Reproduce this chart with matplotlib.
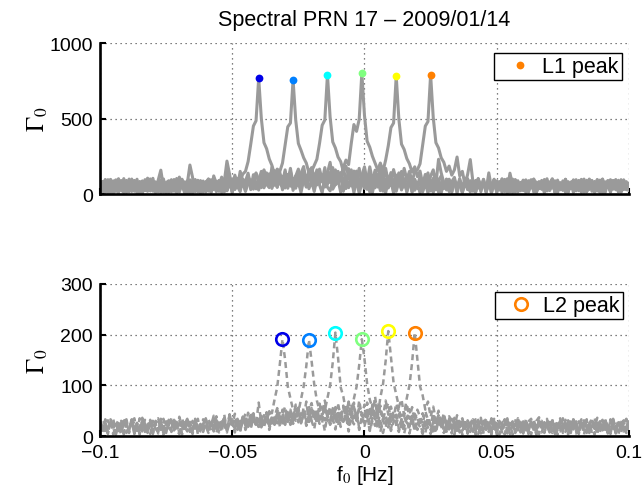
import numpy as np
import matplotlib
matplotlib.use("Agg")
import matplotlib.pyplot as plt
from matplotlib.ticker import FixedLocator, FixedFormatter

# Frequency axis shared by every spectrum [Hz]
freq = np.linspace(-0.1, 0.1, 201)

# L1 spectral amplitude Gamma_0, one spectrum per track
l1_a = [38, 82, 12, 95, 47, 8, 66, 101, 25, 59, 90, 15, 72, 44, 98, 6, 63, 85, 30, 52,
        104, 20, 70, 9, 88, 41, 77, 14, 96, 35, 112, 58, 18, 84, 49, 7, 91, 62, 26, 79,
        45, 99, 11, 120, 68, 33, 94, 22, 146, 82, 13, 114, 56, 92, 132, 150, 215, 330, 450, 485,
        768,
        500, 340, 300, 232, 190, 128, 150, 96, 118, 40, 88, 140, 24, 102, 79, 10, 93, 121, 35, 84,
        17, 99, 60, 8, 110, 45, 21, 87, 62, 95, 12, 78, 36, 70, 104, 28, 83, 5, 69, 92,
        31, 76, 9, 88, 54, 97, 19, 71, 40, 85, 7, 67, 91, 27, 74, 50, 102, 14, 81, 38,
        94, 22, 72, 6, 87, 43, 68, 99, 16, 77, 51, 84, 11, 96, 33, 73, 8, 90, 57, 24,
        80, 12, 103, 47, 75, 9, 86, 37, 98, 20, 71, 55, 89, 6, 77, 42, 95, 18, 68, 83,
        10, 74, 46, 92, 15, 81, 35, 69, 101, 23, 63, 88, 7, 76, 48, 93, 19, 70, 85, 29,
        66, 97, 13, 79, 44, 90, 21, 72, 58, 87, 9, 74, 95, 32, 67, 84, 16, 78, 50, 40]
l1_b = [62, 14, 81, 33, 93, 8, 70, 25, 86, 48, 11, 99, 30, 74, 58, 83, 6, 67, 105, 21,
        71, 17, 91, 158, 45, 9, 63, 95, 28, 72, 13, 88, 40, 69, 192, 110, 19, 84, 7, 78,
        36, 97, 15, 75, 52, 90, 10, 82, 218, 130, 26, 96, 44, 150, 88, 18, 124, 60, 102, 140,
        95, 118, 160, 108, 134, 86, 120, 165, 150, 205, 325, 445, 470,
        757,
        490, 335, 290, 240, 205, 140, 175, 112, 150, 90, 128, 46, 104, 143, 32, 66, 97, 120, 18, 85,
        42, 101, 9, 90, 24, 79, 36,
        88, 13, 75, 41, 96, 22, 70, 8, 84, 57, 93, 18, 77, 39, 102, 11, 73, 86, 25, 68,
        7, 82, 44, 95, 20, 71, 89, 12, 76, 38, 99, 16, 69, 84, 5, 78, 31, 92, 53, 14,
        66, 10, 87, 37, 97, 18, 73, 52, 91, 8, 80, 35, 69, 101, 14, 75, 43, 88, 21, 72,
        94, 17, 68, 83, 9, 77, 40, 96, 22, 71, 86, 13, 79, 47, 25, 98, 15, 74, 89, 34,
        70, 11, 85, 43, 99, 18, 76, 29, 92, 7, 81, 57, 22, 88, 63, 16, 95, 38, 71, 43]
l1_c = [15, 68, 92, 30, 77, 8, 61, 98, 25, 12, 80, 46, 17, 89, 38, 73, 6, 95, 42, 21,
        84, 15, 72, 37, 100, 9, 79, 43, 18, 91, 24, 70, 6, 87, 45, 22, 96, 14, 75, 40,
        82, 19, 71, 94, 28, 56, 112, 13, 88, 64, 31, 125, 49, 16, 97, 84, 138, 40, 92, 115,
        88, 150, 64, 132, 56, 178, 120, 45, 142, 70, 160, 38, 130, 46, 118, 165, 62, 140, 48, 122,
        150, 190, 230, 335, 455, 490,
        790,
        510, 345, 305, 245, 215, 150, 185, 120, 160, 68, 138, 40, 112, 150,
        52, 125, 30, 104, 46, 133, 24, 98, 47, 115, 18, 90, 106, 32, 84, 21, 99, 13, 80, 37,
        95, 14, 78, 32, 91, 10, 73, 86, 9, 70, 27, 94, 17, 81, 36, 103, 12, 75, 29, 88,
        21, 69, 97, 15, 78, 33, 90, 8, 72, 84, 26, 100, 18, 67, 79, 11, 93, 30, 74, 22,
        86, 13, 70, 98, 25, 64, 81, 7, 89, 28, 75, 16, 92, 32, 69, 84, 20, 77, 10, 95,
        27, 73, 88, 15, 66, 80, 22, 96, 12, 71, 33, 87, 19, 78, 28, 91, 14, 69, 82, 25]
l1_d = [70, 16, 85, 29, 8, 76, 94, 22, 67, 11, 88, 33, 99, 18, 74, 26, 7, 82, 39, 95,
        23, 78, 14, 90, 31, 72, 9, 86, 28, 103, 17, 66, 81, 5, 94, 30, 73, 20, 89, 12,
        76, 99, 27, 68, 15, 87, 33, 102, 21, 78, 93, 30, 71, 118, 54, 36, 105, 29, 128, 50,
        97, 42, 115, 140, 58, 110, 155, 64, 126, 50, 145, 78, 170, 66, 120, 54, 138, 182, 82, 148,
        60, 130, 74, 165, 88, 62, 140, 210, 98, 70, 150, 88, 175, 225, 195, 335, 460, 415, 495,
        801,
        520, 350, 310, 250, 205, 160, 190, 130, 170, 75, 142, 58, 125, 66, 150, 48, 110, 132, 40, 98,
        54,
        115, 32, 93, 140, 45, 104, 28, 88, 120, 37, 96, 24, 82, 110, 33, 90, 17, 76, 101, 29,
        84, 15, 97, 38, 79, 22, 93, 8, 74, 86, 30, 99, 17, 71, 83, 26, 92, 13, 77, 34,
        20, 88, 41, 96, 12, 79, 32, 90, 23, 68, 101, 16, 75, 28, 87, 10, 82, 35, 94, 21,
        73, 86, 17, 91, 30, 77, 9, 84, 36, 98, 25, 72, 18, 89, 33, 80, 14, 93, 28, 70]
l1_e = [28, 83, 11, 72, 97, 20, 64, 6, 89, 45, 15, 68, 92, 25, 79, 5, 86, 32, 18, 100,
        36, 9, 81, 27, 93, 16, 74, 31, 87, 12, 70, 96, 23, 65, 8, 84, 29, 91, 17, 77,
        33, 90, 14, 72, 85, 21, 69, 96, 27, 82, 10, 76, 104, 30, 88, 19, 73, 94, 32, 80,
        26, 98, 41, 86, 122, 37, 92, 45, 110, 28, 95, 130, 52, 104, 38, 118, 60, 146, 46, 102,
        125, 54, 160, 68, 120, 58, 142, 76, 175, 62, 130, 86, 188, 70, 138, 54, 152, 88, 170, 66,
        134, 80, 180, 92, 145, 160, 205, 150, 225, 320, 440, 470,
        781,
        495, 330, 295, 235, 200, 145, 180, 115, 152, 65, 130, 50, 118, 160, 62, 230, 140, 75,
        42, 98, 34, 88, 28, 95, 40, 105, 32, 84,
        19, 90, 43, 31, 97, 14, 78, 36, 92, 23, 81, 9, 86, 39, 27, 99, 17, 75, 32, 88,
        24, 71, 95, 12, 80, 35, 90, 20, 76, 30, 97, 15, 83, 38, 26, 92, 11, 79, 34, 87,
        22, 74, 99, 16, 69, 85, 28, 93, 10, 77, 33, 89, 21, 72, 96, 13, 81, 29, 70, 25]
l1_f = [81, 24, 96, 10, 69, 87, 17, 73, 28, 102, 14, 77, 33, 90, 5, 71, 85, 22, 66, 93,
        19, 80, 30, 94, 12, 75, 88, 25, 67, 8, 83, 98, 21, 70, 32, 91, 16, 79, 27, 86,
        13, 72, 95, 29, 81, 18, 66, 90, 24, 77, 101, 32, 85, 40, 97, 28, 112, 46, 91, 34,
        105, 50, 128, 64, 42, 115, 58, 136, 69, 48, 120, 62, 150, 55, 110, 132, 66, 118, 52, 160,
        74, 128, 60, 148, 82, 175, 65, 135, 88, 160, 70, 142, 96, 58, 168, 80, 135, 152, 68, 124,
        180, 85, 140, 66, 158, 92, 190, 78, 145, 100, 68, 162, 88, 140, 74, 170, 96, 150, 82, 148,
        160, 200, 325, 450, 480,
        790,
        505, 340, 305, 240, 210, 150, 185, 125, 160, 245, 120, 150, 62, 130, 228,
        80, 46, 98, 32, 85, 25, 140, 40, 93, 18, 81, 36, 97, 22, 138, 59, 13, 78, 31, 92,
        27, 84, 40, 99, 16, 79, 33, 88, 21, 75, 94, 12, 68, 56, 29, 97, 18, 73, 82, 25,
        90, 32, 77, 15, 96, 37, 83, 20, 71, 99, 28, 74, 11, 87, 35, 80, 23, 92, 39, 30]

# L2 spectral amplitude Gamma_0, one spectrum per track
l2_a = [12, 25, 4, 31, 17, 22, 3, 28, 9, 33, 6, 19, 27, 5, 23, 14, 30, 8, 21, 26,
        7, 30, 13, 24, 3, 29, 16, 10, 32, 20, 5, 26, 12, 31, 8, 22, 15, 34, 9, 25,
        19, 6, 28, 13, 31, 8, 24, 35, 11, 21, 27, 7, 33, 16, 40, 12, 26, 20, 35, 24,
        66, 24, 40, 28, 50, 45, 72, 96, 142,
        191,
        150, 98, 74, 52, 38, 55, 26, 46, 20, 41, 30, 14, 44, 24, 37, 10, 42, 22, 35, 13,
        48, 18, 31, 40, 9, 36, 23, 45, 12, 32,
        20, 39, 10, 30, 43, 15, 34, 6, 28, 37, 13, 41, 22, 8, 33, 18, 38, 5, 29, 24,
        12, 33, 21, 6, 31, 25, 4, 30, 17, 32, 9, 24, 29, 5, 34, 15, 26, 3, 30, 18,
        8, 27, 33, 4, 22, 30, 12, 25, 3, 32, 15, 28, 7, 24, 33, 4, 21, 29, 11, 26,
        6, 30, 18, 3, 27, 10, 31, 20, 7, 25, 14, 31, 2, 23, 28, 9, 32, 5, 21, 13,
        29, 4, 24, 31, 8, 26, 16, 3, 30, 11, 22, 28, 6, 33, 14, 25, 4, 20, 31, 9, 23]
l2_b = [20, 5, 27, 11, 33, 16, 3, 24, 30, 7, 22, 13, 34, 4, 26, 10, 29, 19, 6, 32,
        15, 25, 8, 33, 3, 23, 17, 31, 11, 28, 6, 35, 19, 9, 26, 4, 32, 15, 24, 8,
        30, 12, 22, 35, 6, 27, 16, 42, 9, 25, 33, 14, 28, 7, 38, 21, 15, 31, 45, 20,
        34, 17, 29, 41, 12, 36, 22, 44, 19, 52, 26, 40, 22, 48, 30, 47, 73, 98, 138,
        190,
        148, 102, 70, 50, 62, 31, 48, 24, 55, 34, 20, 46, 28, 58, 17, 41, 30, 50, 15, 38,
        25, 44, 11, 36, 20, 40, 8, 31, 17, 37, 10, 28, 42, 14, 33, 5, 27, 19, 35, 9,
        30, 17, 4, 26, 34, 12, 24, 6, 32, 16, 27, 5, 34, 13, 23, 29, 7, 31, 10, 25,
        19, 33, 3, 28, 12, 24, 34, 8, 20, 30, 5, 27, 15, 33, 9, 25, 3, 31, 17, 11,
        26, 7, 29, 34, 10, 22, 4, 32, 14, 27, 21, 6, 30, 16, 9, 35, 19, 5, 28, 15,
        31, 8, 25, 3, 33, 18, 11, 29, 7, 26, 32, 12, 22, 4, 30, 20, 9, 27, 15, 6, 28]
l2_c = [28, 10, 22, 4, 33, 15, 26, 7, 31, 3, 24, 13, 29, 35, 5, 21, 9, 32, 25, 4,
        30, 14, 8, 27, 34, 6, 23, 17, 32, 11, 4, 28, 20, 36, 9, 30, 15, 26, 6, 33,
        17, 29, 11, 37, 20, 7, 33, 22, 14, 41, 24, 17, 35, 12, 30, 44, 19, 38, 22, 33,
        18, 40, 25, 47, 20, 38, 30, 52, 22, 43, 58, 28, 48, 33, 62, 27, 45, 36, 68, 28,
        55, 40, 30, 64, 42, 50, 75, 100, 145,
        204,
        155, 96, 78, 48, 66, 36, 58, 30, 70, 40, 32, 55, 24, 62, 38, 20, 50, 30, 41, 17,
        47, 27, 22, 43, 13, 38, 25, 18, 40, 11, 34,
        22, 8, 32, 17, 4, 29, 12, 35, 19, 6, 30, 15, 27, 3, 33, 18, 9, 28, 5, 25,
        34, 13, 24, 5, 31, 16, 27, 8, 34, 11, 23, 29, 3, 26, 32, 14, 7, 35, 18, 9,
        28, 4, 25, 33, 12, 22, 30, 6, 26, 34, 10, 20, 3, 29, 24, 8, 31, 14, 27, 5,
        23, 33, 11, 21, 6, 30, 25, 3, 28, 15, 35, 9, 22, 27, 5, 32, 13, 24, 29, 7]
l2_d = [14, 31, 22, 5, 27, 34, 9, 20, 3, 29, 24, 12, 33, 6, 26, 16, 36, 9, 22, 30,
        4, 25, 32, 14, 7, 28, 19, 35, 10, 23, 30, 3, 26, 34, 13, 6, 29, 17, 24, 8,
        33, 19, 27, 9, 36, 14, 25, 30, 11, 43, 17, 34, 23, 13, 38, 26, 18, 47, 29, 22,
        36, 18, 41, 25, 49, 21, 38, 55, 27, 46, 22, 52, 35, 29, 61, 38, 30, 56, 26, 50,
        65, 35, 54, 31, 47, 70, 38, 58, 30, 52, 63, 40, 57, 33, 68, 42, 74, 97, 140,
        191,
        152, 103, 72, 55, 68, 38, 60, 32, 52, 65, 28, 49, 36, 58, 24, 46, 33, 53, 20, 44,
        30,
        26, 45, 16, 37, 22, 42, 13, 34, 20, 39, 9, 31, 18, 36, 6, 29, 15, 33, 11, 27,
        5, 25, 32, 12, 23, 35, 8, 28, 15, 31, 3, 26, 34, 10, 22, 29, 6, 35, 14, 24,
        30, 9, 27, 16, 4, 33, 13, 25, 34, 7, 28, 19, 11, 31, 16, 26, 3, 34, 18, 10,
        29, 14, 32, 6, 24, 35, 12, 27, 17, 8, 30, 21, 4, 34, 13, 23, 28, 9, 33, 15]
l2_e = [24, 7, 33, 15, 28, 3, 22, 31, 10, 26, 33, 8, 20, 29, 5, 35, 14, 25, 9, 32,
        18, 27, 5, 34, 12, 23, 30, 8, 35, 15, 25, 4, 31, 19, 28, 10, 33, 6, 26, 16,
        35, 9, 29, 18, 39, 13, 31, 21, 7, 42, 23, 15, 34, 11, 30, 20, 46, 16, 37, 24,
        28, 40, 18, 35, 46, 20, 38, 25, 48, 22, 42, 28, 52, 24, 40, 56, 26, 45, 31, 60,
        29, 48, 24, 54, 35, 62, 30, 50, 26, 57, 38, 32, 60, 28, 52, 36, 66, 30, 54, 40,
        62, 34, 56, 38, 78, 40, 76, 102, 148,
        207,
        156, 105, 82, 58, 72, 40, 64, 34, 57, 29, 52, 38, 24, 49, 32, 20, 45, 27, 41, 16, 36,
        23, 13, 34, 19, 7, 31, 16, 27, 5, 25,
        33, 11, 23, 30, 4, 26, 15, 35, 8, 28, 18, 10, 32, 5, 27, 20, 12, 36, 7, 29,
        16, 10, 31, 22, 3, 34, 14, 27, 19, 7, 30, 12, 26, 35, 6, 22, 28, 9, 33, 17,
        4, 26, 31, 13, 24, 8, 35, 18, 29, 11, 27, 5, 32, 20, 14, 30, 7, 25, 34, 12]
l2_f = [30, 13, 26, 8, 33, 18, 4, 28, 11, 36, 20, 6, 31, 15, 25, 3, 34, 19, 9, 29,
        7, 27, 35, 12, 24, 5, 32, 16, 28, 10, 38, 19, 8, 30, 22, 13, 34, 4, 27, 17,
        11, 33, 21, 40, 14, 28, 8, 36, 18, 31, 22, 44, 12, 30, 19, 37, 24, 15, 41, 28,
        18, 34, 22, 40, 19, 36, 25, 44, 20, 39, 27, 48, 23, 42, 30, 52, 25, 45, 33, 28,
        55, 30, 47, 36, 26, 58, 38, 31, 50, 34, 60, 28, 46, 53, 32, 62, 38, 35, 56, 44,
        36, 66, 40, 54, 33, 62, 45, 38, 70, 42, 58, 36, 64, 48, 40, 43, 75, 100, 145,
        204,
        152, 98, 80, 52, 68, 38, 58, 31, 50, 25, 45, 20, 39, 28, 17, 41, 23, 35, 14, 31, 21,
        9, 29, 17, 36, 6, 27, 13, 32, 20, 3, 30, 15, 26, 35, 8, 23, 31, 11, 28, 5,
        33, 16, 25, 9, 30, 37, 7, 27, 14, 24, 34, 4, 29, 18, 12, 31, 22, 6, 35, 15,
        10, 28, 19, 32, 5, 26, 14, 36, 8, 24, 30, 13, 22, 34, 3, 27, 16, 29, 11, 31]

l1_spectra = [l1_a, l1_b, l1_c, l1_d, l1_e, l1_f]
l2_spectra = [l2_a, l2_b, l2_c, l2_d, l2_e, l2_f]
peak_colors = ['#0000e8', '#0080ff', '#00ffff', '#80ff80', '#ffff00', '#ff8000']

x_ticks = [-0.1, -0.05, 0, 0.05, 0.1]
x_labels = ['\u22120.1', '\u22120.05', '0', '0.05', '0.1']
l1_yticks = [0, 500, 1000]
l2_yticks = [0, 100, 200, 300]

plt.rcParams['font.family'] = ['Liberation Sans', 'DejaVu Sans']
plt.rcParams['mathtext.fontset'] = 'stix'

fig = plt.figure(figsize=(6.43, 4.89), dpi=100)
ax1 = fig.add_axes([0.1555, 0.6012, 0.8227, 0.3088])
ax2 = fig.add_axes([0.1555, 0.1063, 0.8227, 0.3110])

line_gray = '#9a9a9a'
for spec in l1_spectra:
    ax1.plot(freq, spec, color=line_gray, lw=2.2, zorder=2)
for n, (spec, c) in enumerate(zip(l1_spectra, peak_colors)):
    i = int(np.argmax(spec))
    ax1.plot(freq[i], spec[i], 'o', color=c, ms=5.6, mew=0, zorder=3,
             label='L1 peak' if n == len(l1_spectra) - 1 else '_nolegend_')

for spec in l2_spectra:
    ax2.plot(freq, spec, color=line_gray, lw=1.8, ls=(0, (2.4, 1.6)), zorder=2)
for n, (spec, c) in enumerate(zip(l2_spectra, peak_colors)):
    i = int(np.argmax(spec))
    ax2.plot(freq[i], spec[i], 'o', mfc='none', mec=c, ms=9.0, mew=1.9, zorder=3,
             label='L2 peak' if n == len(l2_spectra) - 1 else '_nolegend_')

for ax, yt, ymax in ((ax1, l1_yticks, 1000), (ax2, l2_yticks, 300)):
    ax.set_xlim(-0.1, 0.1)
    ax.set_ylim(0, ymax)
    ax.xaxis.set_major_locator(FixedLocator(x_ticks))
    ax.yaxis.set_major_locator(FixedLocator(yt))
    ax.yaxis.set_major_formatter(FixedFormatter([str(v) for v in yt]))
    ax.spines['top'].set_visible(False)
    ax.spines['right'].set_visible(False)
    for s in ('left', 'bottom'):
        ax.spines[s].set_linewidth(1.9)
        ax.spines[s].set_zorder(4)
    ax.set_axisbelow(True)
    ax.grid(True, color='#555555', lw=0.9, ls=(0, (1, 3)))
    ax.tick_params(direction='in', length=4, width=1.5, labelsize=14, pad=5)
    ax.set_ylabel(r'$\Gamma_0$', fontsize=18)
    ax.yaxis.set_label_coords(-0.095, 0.5)

ax1.xaxis.set_major_formatter(FixedFormatter([''] * len(x_ticks)))
ax2.xaxis.set_major_formatter(FixedFormatter(x_labels))
ax2.tick_params(axis='x', pad=6)
ax2.set_xlabel(r'f$_0$ [Hz]', fontsize=15, labelpad=1)

ax1.set_title('Spectral PRN 17 \u2013 2009/01/14', fontsize=15.5, pad=13)

leg_kw = dict(loc='upper right', fontsize=15.5, frameon=True, fancybox=False,
              framealpha=1, edgecolor='black', borderaxespad=0, borderpad=0.15,
              handlelength=2.1, handletextpad=0.0, numpoints=1)
lg1 = ax1.legend(bbox_to_anchor=(622 / 643, 1 - 54 / 489), bbox_transform=fig.transFigure, **leg_kw)
lg2 = ax2.legend(bbox_to_anchor=(623 / 643, 1 - 293 / 489), bbox_transform=fig.transFigure, **leg_kw)
for lg in (lg1, lg2):
    lg.get_frame().set_linewidth(1.0)

fig.savefig('out.png', dpi=100)
